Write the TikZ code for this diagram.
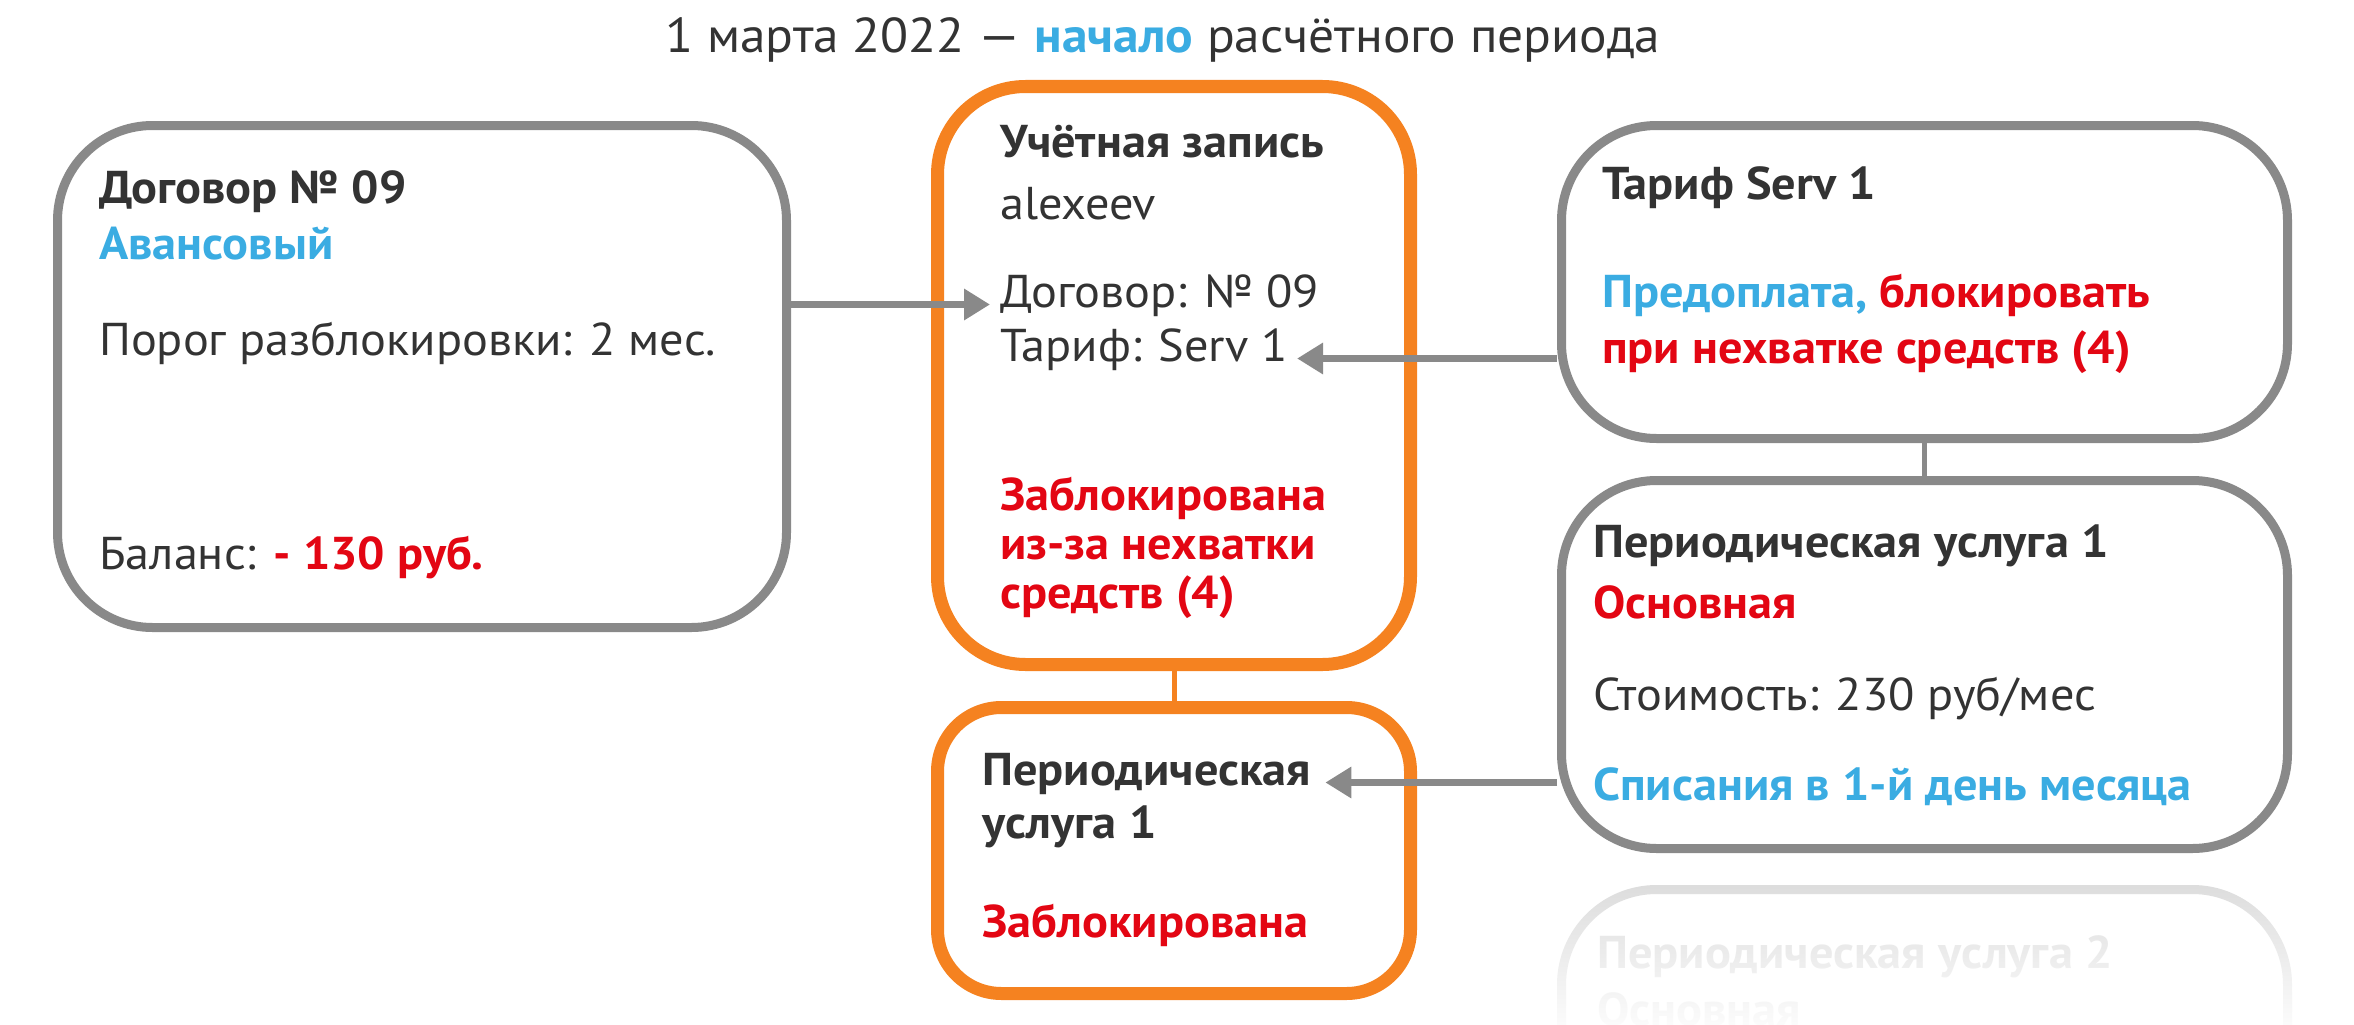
\documentclass[tikz,border=0pt]{standalone}
\usepackage{fontspec}
\setmainfont[FakeStretch=1.05]{PT Sans}
\usetikzlibrary{arrows.meta,fadings}
\definecolor{dk}{HTML}{333333}
\definecolor{bl}{HTML}{3AACE2}
\definecolor{rd}{HTML}{E30613}
\definecolor{orng}{HTML}{F58220}
\definecolor{gr}{HTML}{898989}
\definecolor{fadec}{HTML}{DADADA}
\tikzfading[name=fadedown, top color=transparent!100, bottom color=transparent!0]
\newcommand\fs{\fontsize{46}{55}\selectfont}
\newcommand\tfs{\fontsize{49}{58}\selectfont}
\tikzset{
  txt/.style={anchor=base west, inner sep=0pt, font=\fs, text=dk},
  bt/.style={txt, font=\fs\bfseries},
  graybox/.style={draw=gr, line width=9pt, rounded corners=95pt, inner sep=0pt, fill=white},
  orangebox/.style={draw=orng, line width=13pt, inner sep=0pt, fill=white},
  arr/.style={draw=gr, line width=7pt, -{Triangle[length=26pt,width=30pt]}},
  conn/.style={draw=gr, line width=5pt},
  oconn/.style={draw=orng, line width=5pt},
}
\begin{document}
\begin{tikzpicture}[x=1pt,y=-1pt]
\useasboundingbox (0,0) rectangle (2354,1025);
% title
\node[txt, anchor=base, font=\tfs] (title) at (1163,53) {1 марта 2022 — {\bfseries\color{bl}начало} расчётного периода};
% boxes
\node[graybox, minimum width=729pt, minimum height=502pt] (dog) at (422,376.5) {};
\node[orangebox, rounded corners=88pt, minimum width=473pt, minimum height=578pt] (acc) at (1174,375.5) {};
\node[orangebox, rounded corners=64pt, minimum width=473pt, minimum height=286pt] (usl) at (1174,850.5) {};
\node[graybox, minimum width=726pt, minimum height=313pt] (tar) at (1924.5,282) {};
\node[graybox, minimum width=726pt, minimum height=368pt] (per) at (1924.5,664.5) {};
% connectors without arrows
\draw[oconn] (acc.south) -- (usl.north);
\draw[conn] (tar.south) -- (per.north);
% left box texts
\node[bt] (t1) at (99,203) {Договор № 09};
\node[bt, text=bl] (t2) at (99,259) {Авансовый};
\node[txt] (t3) at (99,355) {Порог разблокировки: 2 мес.};
\node[txt] (t4) at (99,569) {Баланс: {\bfseries\color{rd}- 130 руб.}};
% account texts
\node[bt] (a1) at (1000,157) {Учётная запись};
\node[txt] (a2) at (1000,219) {alexeev};
\node[txt] (a3) at (1000,307) {Договор: № 09};
\node[txt] (a4) at (1000,361) {Тариф: Serv 1};
\node[bt, text=rd] (a5) at (1000,510) {Заблокирована};
\node[bt, text=rd] (a6) at (1000,559) {из-за нехватки};
\node[bt, text=rd] (a7) at (1000,608) {средств (4)};
% lower orange
\node[bt] (p1) at (982,785) {Периодическая};
\node[bt] (p2) at (982,838) {услуга 1};
\node[bt, text=rd] (p3) at (982,937) {Заблокирована};
% tariff
\node[bt] (r1) at (1602,199) {Тариф Serv 1};
\node[bt] (r2) at (1602,307) {{\color{bl}Предоплата,} {\color{rd}блокировать}};
\node[bt, text=rd] (r3) at (1602,363) {при нехватке средств (4)};
% periodic service 1
\node[bt] (m1) at (1593,557) {Периодическая услуга 1};
\node[bt, text=rd] (m2) at (1593,618) {Основная};
\node[txt] (m3) at (1593,710) {Стоимость: 230 руб/мес};
\node[bt, text=bl] (m4) at (1593,800) {Списания в 1-й день месяца};
% arrows
\draw[arr] (dog.east |- a3.mid west) -- ([xshift=-10pt]a3.mid west);
\draw[arr] (tar.west |- a4.mid east) -- ([xshift=9pt]a4.mid east);
\draw[arr] (per.west |- p1.mid east) -- ([xshift=14pt]p1.mid east);
% faded reflection
\begin{scope}
\clip (1500,860) rectangle (2354,1025);
\node[graybox, draw=fadec, minimum width=726pt, minimum height=368pt] (per2) at (1924.5,1073.5) {};
\node[bt, text=fadec] (f1) at (1597,968) {Периодическая услуга 2};
\node[bt, text=fadec] (f2) at (1597,1025) {Основная};
\fill[white, path fading=fadedown] (1500,870) rectangle (2354,1040);
\end{scope}
\end{tikzpicture}
\end{document}
